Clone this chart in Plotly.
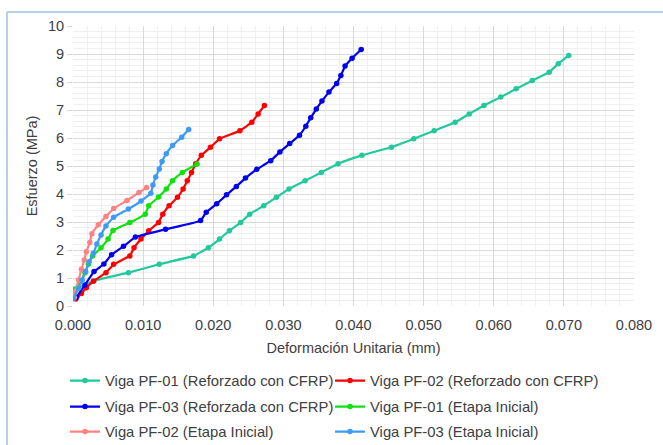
import plotly.graph_objects as go

# ---- data ----
pf01_cfrp_x = [0.0000, 0.0005, 0.0030, 0.0079, 0.0123, 0.0172, 0.0193, 0.0209, 0.0223, 0.0239,
               0.0252, 0.0272, 0.0290, 0.0308, 0.0331, 0.0354, 0.0378, 0.0412, 0.0454, 0.0486,
               0.0515, 0.0545, 0.0565, 0.0586, 0.0610, 0.0632, 0.0655, 0.0679, 0.0692, 0.0707]
pf01_cfrp_y = [0.30, 0.60, 0.90, 1.19, 1.49, 1.79, 2.08, 2.39, 2.69, 2.98,
               3.28, 3.58, 3.88, 4.18, 4.47, 4.77, 5.08, 5.38, 5.67, 5.97,
               6.26, 6.56, 6.86, 7.16, 7.46, 7.76, 8.05, 8.35, 8.65, 8.95]

pf02_cfrp_x = [0.0004, 0.0012, 0.0019, 0.0029, 0.0047, 0.0058, 0.0081, 0.0087, 0.0097, 0.0108,
               0.0122, 0.0128, 0.0137, 0.0149, 0.0157, 0.0163, 0.0169, 0.0175, 0.0183, 0.0196,
               0.0209, 0.0238, 0.0255, 0.0264, 0.0273]
pf02_cfrp_y = [0.25, 0.45, 0.65, 0.88, 1.19, 1.49, 1.79, 2.08, 2.39, 2.69,
               2.98, 3.28, 3.58, 3.88, 4.18, 4.47, 4.77, 5.08, 5.38, 5.67,
               5.97, 6.26, 6.56, 6.86, 7.16]

pf03_cfrp_x = [0.0005, 0.0017, 0.0030, 0.0044, 0.0055, 0.0072, 0.0089, 0.0132, 0.0182, 0.0190,
               0.0205, 0.0219, 0.0233, 0.0246, 0.0262, 0.0282, 0.0295, 0.0309, 0.0323, 0.0332,
               0.0339, 0.0347, 0.0355, 0.0365, 0.0376, 0.0382, 0.0388, 0.0398, 0.0411]
pf03_cfrp_y = [0.31, 0.75, 1.23, 1.50, 1.83, 2.13, 2.46, 2.74, 3.05, 3.35,
               3.65, 3.97, 4.27, 4.57, 4.88, 5.19, 5.50, 5.80, 6.10, 6.42,
               6.72, 7.04, 7.32, 7.64, 7.95, 8.23, 8.57, 8.85, 9.16]

pf01_ini_x = [0.0000, 0.0002, 0.0011, 0.0017, 0.0022, 0.0028, 0.0040, 0.0050, 0.0057, 0.0081,
              0.0103, 0.0108, 0.0122, 0.0133, 0.0142, 0.0156, 0.0177]
pf01_ini_y = [0.30, 0.60, 0.88, 1.19, 1.49, 1.79, 2.08, 2.39, 2.70, 2.98,
              3.28, 3.58, 3.89, 4.18, 4.47, 4.77, 5.07]

pf02_ini_x = [0.0002, 0.0003, 0.0008, 0.0012, 0.0016, 0.0019, 0.0024, 0.0027, 0.0036, 0.0047,
              0.0058, 0.0077, 0.0094, 0.0105]
pf02_ini_y = [0.30, 0.51, 0.93, 1.31, 1.64, 1.94, 2.27, 2.58, 2.90, 3.20,
              3.48, 3.77, 4.05, 4.23]

pf03_ini_x = [0.0000, 0.0008, 0.0013, 0.0018, 0.0023, 0.0029, 0.0034, 0.0040, 0.0047, 0.0058,
              0.0079, 0.0097, 0.0111, 0.0114, 0.0118, 0.0123, 0.0127, 0.0133, 0.0142, 0.0155, 0.0165]
pf03_ini_y = [0.26, 0.63, 0.93, 1.23, 1.58, 1.88, 2.21, 2.54, 2.86, 3.17,
              3.46, 3.75, 4.03, 4.32, 4.61, 4.89, 5.16, 5.44, 5.73, 6.03, 6.30]

series = [
    ("Viga PF-01 (Reforzado con CFRP)", pf01_cfrp_x, pf01_cfrp_y, "#22C99B"),
    ("Viga PF-02 (Reforzado con CFRP)", pf02_cfrp_x, pf02_cfrp_y, "#FF0000"),
    ("Viga PF-03 (Reforzada con CFRP)", pf03_cfrp_x, pf03_cfrp_y, "#0000EE"),
    ("Viga PF-01 (Etapa Inicial)", pf01_ini_x, pf01_ini_y, "#11E011"),
    ("Viga PF-02 (Etapa Inicial)", pf02_ini_x, pf02_ini_y, "#FF8282"),
    ("Viga PF-03 (Etapa Inicial)", pf03_ini_x, pf03_ini_y, "#3D9BF5"),
]

FONT = "Liberation Sans, Arial, sans-serif"
TXT = "#404040"

L, R, T, B = 73, 29, 26, 139
W, H = 663, 445
pw, ph = W - L - R, H - T - B

def px2paper_x(px):
    return (px - L) / pw

def py2paper_y(py):
    return (H - B - py) / ph

legend_names = ["legend", "legend2", "legend3", "legend4", "legend5", "legend6"]
col_x = [65, 330]
row_y = [381, 407, 432]

fig = go.Figure()
for i, (name, xs, ys, col) in enumerate(series):
    fig.add_trace(go.Scatter(
        x=xs, y=ys, name=name, mode="lines+markers", legend=legend_names[i],
        line=dict(color=col, width=2.2, shape="spline", smoothing=0.3),
        marker=dict(color=col, size=5.5),
    ))

legends = {}
for i, lname in enumerate(legend_names):
    legends[lname] = dict(
        orientation="v", x=px2paper_x(col_x[i % 2]), xanchor="left",
        y=py2paper_y(row_y[i // 2]), yanchor="middle",
        font=dict(size=14.8, color=TXT, family=FONT),
        itemwidth=30, bgcolor="rgba(0,0,0,0)",
    )

border = "#9DC3E6"
fig.add_shape(type="line", xref="paper", yref="paper",
              x0=px2paper_x(7), x1=px2paper_x(663), y0=py2paper_y(12), y1=py2paper_y(12),
              line=dict(color=border, width=1.5))
fig.add_shape(type="line", xref="paper", yref="paper",
              x0=px2paper_x(7), x1=px2paper_x(7), y0=py2paper_y(12), y1=py2paper_y(445),
              line=dict(color=border, width=1.5))

fig.update_layout(
    width=W, height=H,
    margin=dict(l=L, r=R, t=T, b=B, autoexpand=False),
    paper_bgcolor="white", plot_bgcolor="white",
    font=dict(family=FONT, size=14.5, color=TXT),
    showlegend=True,
    xaxis=dict(
        range=[0, 0.08], dtick=0.01, tickformat=".3f", automargin=False,
        showgrid=True, gridcolor="#D9D9D9", gridwidth=1,
        minor=dict(dtick=0.002, showgrid=True, gridcolor="#F0F0F0", gridwidth=1),
        zeroline=False, showline=False,
        ticks="outside", ticklen=6, tickcolor="rgba(0,0,0,0)",
        title=dict(text="Deformación Unitaria (mm)", font=dict(size=14.5, color=TXT), standoff=10),
        tickfont=dict(size=14.5, color=TXT),
    ),
    yaxis=dict(
        range=[0, 10], dtick=1, automargin=False,
        showgrid=True, gridcolor="#D9D9D9", gridwidth=1,
        minor=dict(dtick=0.2, showgrid=True, gridcolor="#F0F0F0", gridwidth=1),
        zeroline=False, showline=False, ticks="outside", ticklen=5, tickcolor="#D9D9D9",
        title=dict(text="Esfuerzo (MPa)", font=dict(size=14.5, color=TXT), standoff=6),
        tickfont=dict(size=14.5, color=TXT),
    ),
)
fig.update_layout(**legends)

fig.write_html("out.html", config={"displayModeBar": False},
               post_script="document.body.style.margin='0';document.body.style.overflow='hidden';")
